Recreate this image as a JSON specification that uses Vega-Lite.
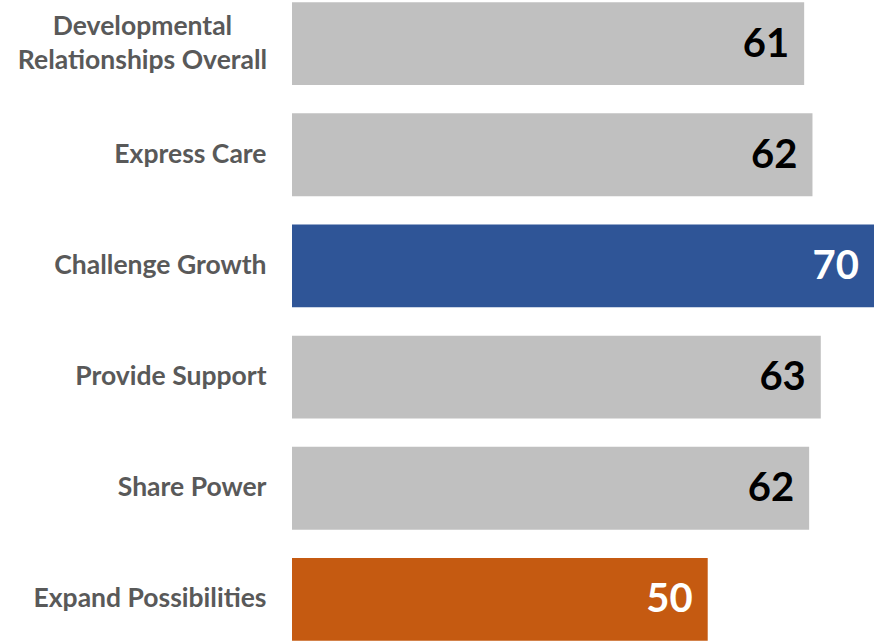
{
  "$schema": "https://vega.github.io/schema/vega-lite/v6.json",
  "width": 582,
  "height": 643,
  "autosize": {"type": "none"},
  "padding": {"left": 292, "top": 0, "right": 0, "bottom": 0},
  "background": "white",
  "config": {"view": {"stroke": null}},
  "data": {
    "values": [
      {"category": "Developmental Relationships Overall", "value": 61.6, "label": "61", "group": "overall"},
      {"category": "Express Care", "value": 62.6, "label": "62", "group": "other"},
      {"category": "Challenge Growth", "value": 70, "label": "70", "group": "highest"},
      {"category": "Provide Support", "value": 63.6, "label": "63", "group": "other"},
      {"category": "Share Power", "value": 62.2, "label": "62", "group": "other"},
      {"category": "Expand Possibilities", "value": 50, "label": "50", "group": "lowest"}
    ]
  },
  "encoding": {
    "y": {
      "field": "category",
      "type": "nominal",
      "sort": null,
      "scale": {"paddingInner": 0.255, "paddingOuter": 0.02},
      "axis": {
        "title": null,
        "domain": false,
        "ticks": false,
        "labelPadding": {"condition": {"test": "datum.value == 'Developmental Relationships Overall'", "value": 150}, "value": 26},
        "labelAlign": {"condition": {"test": "datum.value == 'Developmental Relationships Overall'", "value": "center"}, "value": "right"},
        "labelOffset": {"condition": {"test": "datum.value == 'Developmental Relationships Overall'", "value": -17}, "value": 0},
        "labelFont": "Lato",
        "labelFontSize": 26.5,
        "labelFontWeight": "bold",
        "labelColor": "#595959",
        "labelLimit": 300,
        "labelLineHeight": 34,
        "labelExpr": "datum.value == 'Developmental Relationships Overall' ? ['Developmental', 'Relationships Overall'] : datum.value"
      }
    },
    "x": {
      "field": "value",
      "type": "quantitative",
      "scale": {"domain": [0, 70]},
      "axis": null
    }
  },
  "layer": [
    {
      "mark": {"type": "bar"},
      "encoding": {
        "color": {
          "field": "group",
          "type": "nominal",
          "scale": {"domain": ["overall", "other", "highest", "lowest"], "range": ["#c0c0c0", "#c0c0c0", "#2f5597", "#c55a11"]},
          "legend": null
        }
      }
    },
    {
      "mark": {"type": "text", "align": "right", "baseline": "middle", "dx": -15, "dy": 1, "font": "Lato", "fontSize": 40, "fontWeight": "bold"},
      "encoding": {
        "text": {"field": "label"},
        "color": {
          "condition": {"test": "datum.group == 'overall' || datum.group == 'other'", "value": "#000000"},
          "value": "#ffffff"
        }
      }
    }
  ]
}
